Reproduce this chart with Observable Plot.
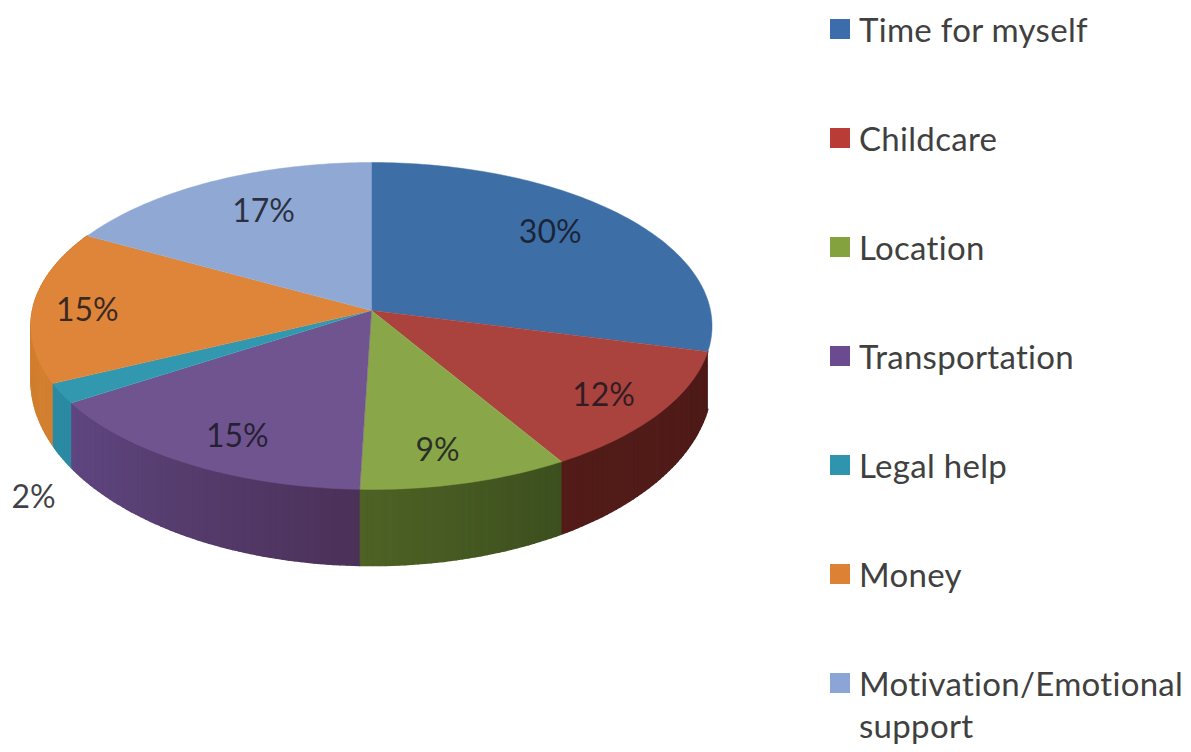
<!DOCTYPE html>
<html>
<head>
<meta charset="utf-8">
<script src="https://cdn.jsdelivr.net/npm/d3@7"></script>
<script src="https://cdn.jsdelivr.net/npm/@observablehq/plot@0.6"></script>
<style>
  html, body { margin: 0; padding: 0; background: #fff; overflow: hidden; }
  #page { position: relative; width: 1191px; height: 752px; }
  #page svg { display: block; }
  #legend { position: absolute; left: 830px; top: 8px; width: 361px; font-family: Lato, sans-serif; font-size: 33px; letter-spacing: 0.3px; line-height: 42px; color: #404040; }
  .row { display: flex; align-items: flex-start; margin-bottom: 67px; white-space: nowrap; }
  .swatch { flex: none; width: 20px; height: 20px; margin: 11px 9px 0 0; }
</style>
</head>
<body>
<div id="page"><div id="legend"></div></div>
<script>
// Data
const categories = ["Time for myself", "Childcare", "Location", "Transportation", "Legal help", "Money", "Motivation/Emotional\nsupport"];
const shares = [30, 12, 9, 15, 2, 15, 17];
const percentLabels = ["30%", "12%", "9%", "15%", "2%", "15%", "17%"];

// Styles
const topColors = ["#3e6ea6", "#aa423d", "#89a649", "#70548f", "#3298b0", "#de853a", "#8fa8d4"];
const legendColors = ["#3d6cad", "#b93c36", "#84a33f", "#6b4a90", "#2f94ae", "#dd8235", "#8ba5d6"];
const sideFrom = [null, "#4d1a17", "#3c4f1e", "#4b3158", "#2a8aa3", "#d27f30", null];
const sideTo = [null, "#521b18", "#4e6225", "#5f4681", "#2a8aa3", "#cf7c2d", null];

// Perspective pie layout: the chart's 3-D view slightly bends angles around the rim
const cx = 371, cy = 310, R = 339, A = 162, K = 0.0948;
const rimAngle = d3.scaleLinear()
  .domain([0, 108, 151.2, 183.6, 237.6, 244.8, 298.8, 360])
  .range([0, 104.4, 149, 181.8, 237.2, 244.4, 298.8, 360]);
const project = (deg, r = 1) => {
  const t = deg * Math.PI / 180, u = r * Math.sin(t), v = r * Math.cos(t), den = 1 + K * v;
  return [cx + R * u / den, cy - A * v / den];
};
const lowerY = y => 379 + (y - 325) * 1.135;   // rim of the pie's base under a given point of its top
const labelRadius = [0.748, 0.822, 0.819, 0.812, 1.375, 0.838, 0.732];
const labelTurn = [-4.6, 0.8, 1.9, -2.5, -20, -1.8, 3.1];

const total = d3.sum(shares);
let run = 0;
const slices = shares.map((s, i) => {
  const start = run / total * 360; run += s;
  return {i, start, end: run / total * 360};
});

const topRows = slices.flatMap(({i, start, end}) => {
  const n = Math.ceil(end - start);
  const arc = d3.range(n + 1).map(k => project(rimAngle(start + (end - start) * k / n)));
  return [[cx, cy], ...arc].map(([x, y]) => ({id: i, x, y, color: topColors[i]}));
});

const sideRows = slices.filter(({i}) => sideFrom[i]).flatMap(({i, start, end}) => {
  const n = Math.ceil(end - start);
  const mix = d3.interpolateRgb(sideFrom[i], sideTo[i]);
  return d3.range(n).flatMap(k => {
    const a = project(rimAngle(start + (end - start) * k / n));
    const b = project(rimAngle(start + (end - start) * (k + 1) / n));
    const color = mix((k + 0.5) / n);
    return [[a[0], a[1]], [b[0], b[1]], [b[0], lowerY(b[1])], [a[0], lowerY(a[1])]]
      .map(([x, y]) => ({id: i + "-" + k, x, y, color}));
  });
});

const labelRows = slices.map(({i, start, end}) => {
  const [x, y] = project(rimAngle((start + end) / 2) + labelTurn[i], labelRadius[i]);
  return {x, y, text: percentLabels[i]};
});

const chart = Plot.plot({
  width: 1191, height: 752,
  margin: 0,
  x: {domain: [0, 1191], range: [0, 1191], axis: null},
  y: {domain: [0, 752], range: [0, 752], axis: null},
  style: {background: "transparent", fontFamily: "Lato, sans-serif"},
  marks: [
    Plot.line(sideRows, {x: "x", y: "y", z: "id", fill: {value: d => d.color, scale: null}, stroke: {value: d => d.color, scale: null}, strokeWidth: 1.5}),
    Plot.line(topRows, {x: "x", y: "y", z: "id", fill: {value: d => d.color, scale: null}, stroke: {value: d => d.color, scale: null}, strokeWidth: 0.5}),
    Plot.text(labelRows, {x: "x", y: "y", text: "text", fontSize: 32, fill: "#14141e", fillOpacity: 0.82})
  ]
});
const page = document.getElementById("page");
page.insertBefore(chart, page.firstChild);

const legend = document.getElementById("legend");
categories.forEach((name, i) => {
  const row = document.createElement("div");
  row.className = "row";
  const sw = document.createElement("div");
  sw.className = "swatch";
  sw.style.background = legendColors[i];
  const label = document.createElement("div");
  label.style.whiteSpace = "pre";
  label.textContent = name;
  row.append(sw, label);
  legend.append(row);
});
</script>
</body>
</html>
